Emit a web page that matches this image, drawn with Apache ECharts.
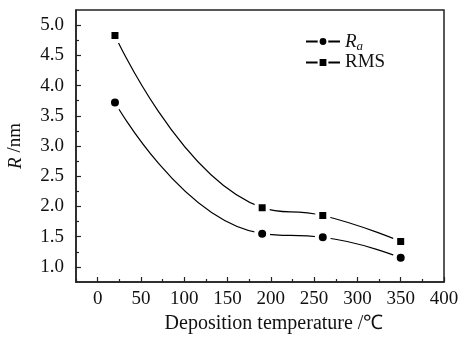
<!DOCTYPE html>
<html>
<head>
<meta charset="utf-8">
<script src="https://cdn.jsdelivr.net/npm/echarts@6/dist/echarts.min.js"></script>
<style>html,body{margin:0;padding:0;background:#fff}#c{width:462px;height:345px}</style>
</head>
<body>
<div id="c"></div>
<script>
const temperature = [20, 190, 260, 350];
const raValues = [3.72, 1.55, 1.49, 1.15];
const rmsValues = [4.83, 1.98, 1.85, 1.42];
const xMajorTicks = [0, 50, 100, 150, 200, 250, 300, 350, 400];
const xMinorTicks = [-25, 25, 75, 125, 175, 225, 275, 325, 375];
const yMajorTicks = [1.0, 1.5, 2.0, 2.5, 3.0, 3.5, 4.0, 4.5, 5.0];
const yMinorTicks = [1.25, 1.75, 2.25, 2.75, 3.25, 3.75, 4.25, 4.75];

const FONT = 'Liberation Serif';
const FS = 19;
const chart = echarts.init(document.getElementById('c'), null, {renderer: 'canvas'});
const axisCol = '#222';
const baseX = {type: 'value', min: -25, max: 400, gridIndex: 0, position: 'bottom', splitLine: {show: false}};
const baseY = {type: 'value', min: 0.75, max: 5.25, gridIndex: 0, position: 'left', splitLine: {show: false}};

chart.setOption({
  animation: false,
  backgroundColor: '#fff',
  grid: {left: 76, right: 18, top: 10, bottom: 63, show: true, borderColor: axisCol, borderWidth: 1.5, outerBoundsMode: 'none'},
  legend: {
    orient: 'vertical', left: 300, top: 27, itemWidth: 34, itemHeight: 11, itemGap: 0,
    textStyle: {fontFamily: FONT, fontSize: FS, color: '#111',
      rich: {i: {fontFamily: FONT, fontSize: FS, fontStyle: 'italic', color: '#111'},
             s: {fontFamily: FONT, fontSize: 13, fontStyle: 'italic', color: '#111', padding: [10, 0, 0, 0]}}},
    formatter: function (n) { return n === 'Ra' ? '{i|R}{s|a}' : n; },
    itemStyle: {borderWidth: 2, borderColor: '#fff'}
  },
  xAxis: [
    Object.assign({}, baseX, {
      axisLine: {show: true, onZero: false, lineStyle: {color: axisCol, width: 1.5}},
      axisTick: {show: true, inside: true, length: 5, customValues: xMajorTicks, lineStyle: {color: axisCol, width: 1.2}},
      axisLabel: {show: true, customValues: xMajorTicks, margin: 8, fontFamily: FONT, fontSize: FS, color: '#111'},
      name: 'Deposition temperature /\u2103', nameLocation: 'middle', nameGap: 32,
      nameTextStyle: {fontFamily: FONT, fontSize: 20, color: '#111', padding: [0, 0, 0, 28]}
    }),
    Object.assign({}, baseX, {
      axisLine: {show: false, onZero: false},
      axisTick: {show: true, inside: true, length: 3, customValues: xMinorTicks, lineStyle: {color: axisCol, width: 1.2}},
      axisLabel: {show: false}
    })
  ],
  yAxis: [
    Object.assign({}, baseY, {
      axisLine: {show: true, onZero: false, lineStyle: {color: axisCol, width: 1.5}},
      axisTick: {show: true, inside: true, length: 5, customValues: yMajorTicks, lineStyle: {color: axisCol, width: 1.2}},
      axisLabel: {show: true, customValues: yMajorTicks, margin: 12, fontFamily: FONT, fontSize: FS, color: '#111',
        formatter: function (v) { return v.toFixed(1); }},
      name: '{i|R} /nm', nameLocation: 'middle', nameGap: 51,
      nameTextStyle: {fontFamily: FONT, fontSize: FS, color: '#111',
        rich: {i: {fontFamily: FONT, fontSize: FS, fontStyle: 'italic', color: '#111'}}}
    }),
    Object.assign({}, baseY, {
      axisLine: {show: false, onZero: false},
      axisTick: {show: true, inside: true, length: 3, customValues: yMinorTicks, lineStyle: {color: axisCol, width: 1.2}},
      axisLabel: {show: false}
    })
  ],
  series: [
    {
      name: 'Ra', type: 'line', xAxisIndex: 0, yAxisIndex: 0,
      data: temperature.map((t, i) => [t, raValues[i]]),
      smooth: 0.5, symbol: 'circle', symbolSize: 12,
      lineStyle: {color: '#000', width: 1.2},
      itemStyle: {color: '#000', borderColor: '#fff', borderWidth: 4}
    },
    {
      name: 'RMS', type: 'line', xAxisIndex: 0, yAxisIndex: 0,
      data: temperature.map((t, i) => [t, rmsValues[i]]),
      smooth: 0.5, symbol: 'rect', symbolSize: 11,
      lineStyle: {color: '#000', width: 1.2},
      itemStyle: {color: '#000', borderColor: '#fff', borderWidth: 4}
    }
  ]
});
</script>
</body>
</html>
